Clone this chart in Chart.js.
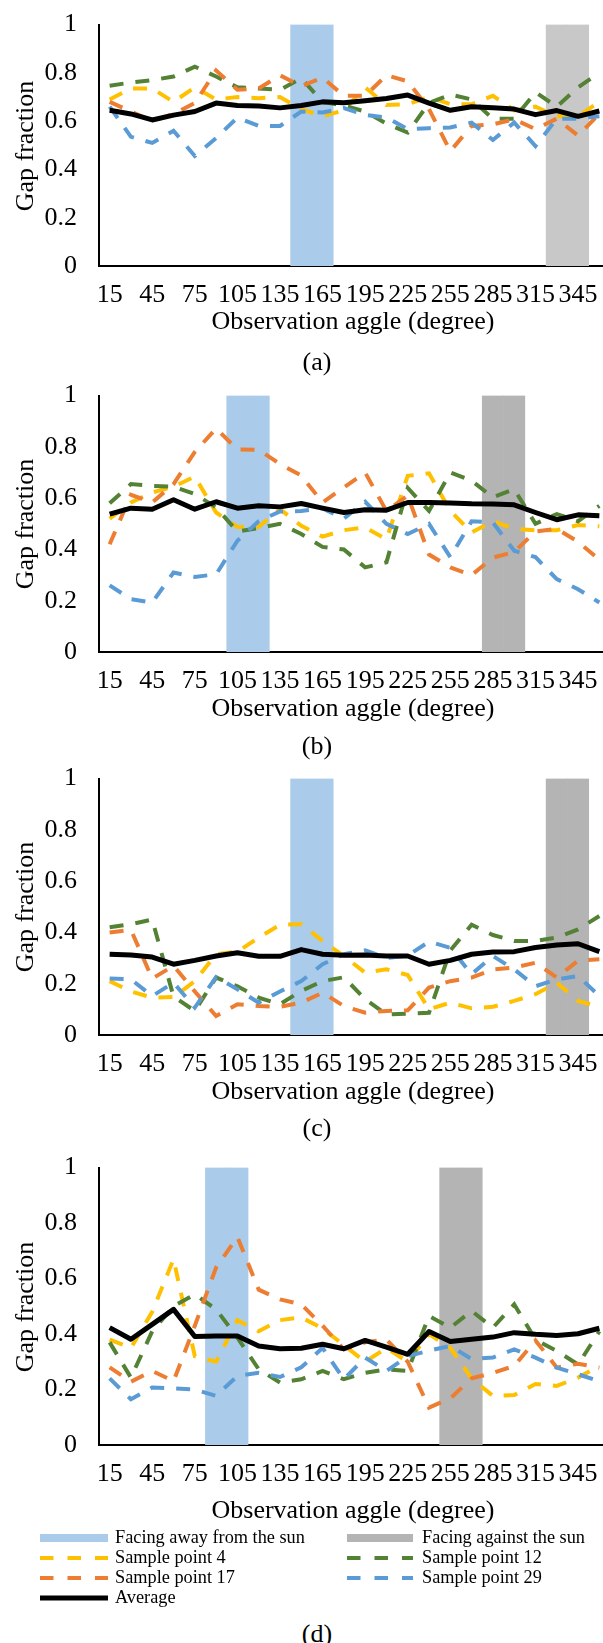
<!DOCTYPE html>
<html>
<head>
<meta charset="utf-8">
<script src="https://cdn.jsdelivr.net/npm/chart.js@4.4.1/dist/chart.umd.min.js"></script>
<style>
  body { margin: 0; background: #fff; }
  #page { position: relative; width: 603px; height: 1643px; overflow: hidden; background: #fff;
          font-family: 'Liberation Serif', 'Times New Roman', serif; color: #000; }
  #page canvas { position: absolute; left: 0; }
  .txt { position: absolute; width: 400px; font-size: 26px; line-height: 30px; text-align: center; white-space: nowrap; }
  .ytitle { width: 200px; transform: rotate(-90deg); }
  .leg { position: absolute; font-size: 18.3px; line-height: 20px; white-space: nowrap; }
  .sw { position: absolute; }
</style>
</head>
<body>
<div id="page"></div>
<script>
var angles = [15, 30, 45, 60, 75, 90, 105, 120, 135, 150, 165, 180, 195, 210, 225, 240, 255, 270, 285, 300, 315, 330, 345, 360];
var shownAngles = [15, 45, 75, 105, 135, 165, 195, 225, 255, 285, 315, 345];

// (a)
var avgA = [0.645, 0.63, 0.605, 0.625, 0.64, 0.675, 0.665, 0.663, 0.655, 0.665, 0.68, 0.676, 0.685, 0.694, 0.708, 0.675, 0.645, 0.66, 0.656, 0.65, 0.627, 0.644, 0.62, 0.642];
var p4A = [0.69, 0.735, 0.735, 0.68, 0.74, 0.69, 0.70, 0.695, 0.70, 0.65, 0.62, 0.645, 0.74, 0.667, 0.67, 0.70, 0.67, 0.67, 0.705, 0.645, 0.66, 0.62, 0.62, 0.68];
var p12A = [0.747, 0.76, 0.77, 0.785, 0.826, 0.785, 0.74, 0.735, 0.73, 0.778, 0.68, 0.665, 0.64, 0.59, 0.553, 0.675, 0.71, 0.69, 0.61, 0.61, 0.72, 0.66, 0.74, 0.80];
var p17A = [0.68, 0.64, 0.60, 0.63, 0.675, 0.81, 0.73, 0.735, 0.79, 0.745, 0.78, 0.705, 0.705, 0.79, 0.765, 0.65, 0.476, 0.58, 0.587, 0.608, 0.567, 0.61, 0.54, 0.63];
var p29A = [0.66, 0.535, 0.51, 0.56, 0.456, 0.53, 0.615, 0.58, 0.58, 0.64, 0.636, 0.654, 0.626, 0.615, 0.567, 0.571, 0.574, 0.594, 0.522, 0.594, 0.497, 0.61, 0.61, 0.62];
var awayA = [150, 165];
var againstA = [330, 345];

// (b)
var avgB = [0.538, 0.561, 0.557, 0.594, 0.557, 0.586, 0.561, 0.57, 0.566, 0.579, 0.561, 0.544, 0.555, 0.553, 0.583, 0.583, 0.581, 0.578, 0.577, 0.574, 0.544, 0.516, 0.535, 0.531];
var p4B = [0.52, 0.583, 0.622, 0.645, 0.684, 0.544, 0.488, 0.488, 0.557, 0.492, 0.45, 0.475, 0.486, 0.44, 0.687, 0.697, 0.55, 0.466, 0.51, 0.48, 0.475, 0.475, 0.495, 0.49];
var p12B = [0.58, 0.655, 0.648, 0.645, 0.616, 0.564, 0.47, 0.483, 0.50, 0.46, 0.41, 0.40, 0.33, 0.35, 0.64, 0.55, 0.70, 0.668, 0.603, 0.635, 0.50, 0.538, 0.51, 0.57];
var p17B = [0.42, 0.613, 0.583, 0.655, 0.78, 0.872, 0.79, 0.789, 0.733, 0.688, 0.583, 0.642, 0.70, 0.55, 0.61, 0.38, 0.33, 0.30, 0.368, 0.39, 0.47, 0.48, 0.43, 0.36];
var p29B = [0.26, 0.206, 0.193, 0.31, 0.293, 0.303, 0.434, 0.51, 0.548, 0.55, 0.56, 0.52, 0.586, 0.50, 0.46, 0.50, 0.37, 0.51, 0.505, 0.395, 0.37, 0.284, 0.245, 0.193];
var awayB = [105, 120];
var againstB = [285, 300];

// (c)
var avgC = [0.315, 0.312, 0.304, 0.276, 0.291, 0.308, 0.321, 0.307, 0.307, 0.333, 0.315, 0.311, 0.312, 0.308, 0.308, 0.276, 0.291, 0.315, 0.324, 0.325, 0.341, 0.351, 0.356, 0.325];
var p4C = [0.21, 0.17, 0.146, 0.148, 0.21, 0.315, 0.325, 0.38, 0.43, 0.432, 0.367, 0.308, 0.243, 0.256, 0.234, 0.10, 0.126, 0.104, 0.11, 0.133, 0.159, 0.204, 0.133, 0.11];
var p12C = [0.42, 0.432, 0.45, 0.15, 0.094, 0.224, 0.19, 0.146, 0.12, 0.172, 0.21, 0.225, 0.14, 0.08, 0.083, 0.087, 0.33, 0.43, 0.39, 0.367, 0.367, 0.38, 0.412, 0.464];
var p17C = [0.40, 0.41, 0.22, 0.27, 0.17, 0.074, 0.12, 0.113, 0.11, 0.126, 0.165, 0.113, 0.087, 0.094, 0.096, 0.185, 0.21, 0.224, 0.256, 0.263, 0.282, 0.224, 0.29, 0.295];
var p29C = [0.22, 0.217, 0.152, 0.204, 0.107, 0.226, 0.178, 0.126, 0.17, 0.21, 0.276, 0.315, 0.33, 0.30, 0.31, 0.364, 0.34, 0.237, 0.308, 0.256, 0.19, 0.217, 0.23, 0.152];
var awayC = [150, 165];
var againstC = [330, 345];

// (d)
var avgD = [0.423, 0.381, 0.435, 0.489, 0.391, 0.393, 0.393, 0.357, 0.347, 0.349, 0.363, 0.347, 0.377, 0.353, 0.327, 0.409, 0.373, 0.381, 0.389, 0.405, 0.399, 0.395, 0.401, 0.421];
var p4D = [0.38, 0.35, 0.48, 0.67, 0.32, 0.30, 0.45, 0.41, 0.45, 0.46, 0.42, 0.36, 0.30, 0.35, 0.30, 0.40, 0.35, 0.24, 0.177, 0.18, 0.22, 0.213, 0.243, 0.285];
var p12D = [0.37, 0.243, 0.41, 0.50, 0.543, 0.489, 0.387, 0.273, 0.225, 0.237, 0.267, 0.237, 0.26, 0.273, 0.267, 0.465, 0.423, 0.483, 0.423, 0.507, 0.38, 0.339, 0.29, 0.41];
var p17D = [0.28, 0.228, 0.267, 0.23, 0.43, 0.64, 0.75, 0.56, 0.525, 0.507, 0.43, 0.345, 0.37, 0.38, 0.30, 0.135, 0.168, 0.24, 0.26, 0.285, 0.377, 0.279, 0.293, 0.279];
var p29D = [0.24, 0.165, 0.207, 0.204, 0.20, 0.177, 0.249, 0.26, 0.245, 0.28, 0.35, 0.237, 0.315, 0.267, 0.32, 0.34, 0.357, 0.31, 0.315, 0.345, 0.315, 0.279, 0.255, 0.23];
var awayD = [90, 105];
var againstD = [255, 270];

var yellow = '#FFC000', green = '#548235', orange = '#ED7D31', blue = '#5B9BD5';
var awayColor = '#AACCEA', againstColor = '#B4B4B4';
var serif = "'Liberation Serif', 'Times New Roman', serif";

Chart.defaults.font.family = serif;
Chart.defaults.color = '#000';

// plot boxes on the page (px)
var plotLeft = 99, plotW = 511;
var panels = [
  { name: '(a)', plotTop: 25, plotH: 241, avg: avgA, p4: p4A, p12: p12A, p17: p17A, p29: p29A, away: awayA, against: againstA, grey: '#C8C8C8', titleY: 323, labelY: 364 },
  { name: '(b)', plotTop: 396, plotH: 256, avg: avgB, p4: p4B, p12: p12B, p17: p17B, p29: p29B, away: awayB, against: againstB, grey: againstColor, titleY: 710, labelY: 748 },
  { name: '(c)', plotTop: 779, plotH: 256, avg: avgC, p4: p4C, p12: p12C, p17: p17C, p29: p29C, away: awayC, against: againstC, grey: againstColor, titleY: 1093, labelY: 1130 },
  { name: '(d)', plotTop: 1168, plotH: 277, avg: avgD, p4: p4D, p12: p12D, p17: p17D, p29: p29D, away: awayD, against: againstD, grey: againstColor, titleY: 1512, labelY: 1636 }
];

var page = document.getElementById('page');

function bandData(cats) {
  return angles.map(function (a) { return cats.indexOf(a) >= 0 ? 1 : null; });
}

function dashed(label, data, color, order) {
  return { type: 'line', label: label, data: data, borderColor: color, borderWidth: 4,
           borderDash: [14, 12], pointRadius: 0, fill: false, tension: 0, order: order };
}

function makeChart(canvas, p) {
  return new Chart(canvas, {
    type: 'bar',
    data: {
      labels: angles,
      datasets: [
        { label: 'Facing away from the sun', data: bandData(p.away), backgroundColor: awayColor,
          barPercentage: 1, categoryPercentage: 1, grouped: false, order: 10 },
        { label: 'Facing against the sun', data: bandData(p.against), backgroundColor: p.grey,
          barPercentage: 1, categoryPercentage: 1, grouped: false, order: 10 },
        dashed('Sample point 4', p.p4, yellow, 5),
        dashed('Sample point 12', p.p12, green, 4),
        dashed('Sample point 17', p.p17, orange, 3),
        dashed('Sample point 29', p.p29, blue, 2),
        { type: 'line', label: 'Average', data: p.avg, borderColor: '#000', borderWidth: 5,
          borderJoinStyle: 'round', pointRadius: 0, fill: false, tension: 0, order: 1 }
      ]
    },
    options: {
      responsive: false,
      animation: false,
      events: [],
      layout: { padding: { top: 20, right: 10, bottom: 0, left: 0 } },
      plugins: { legend: { display: false }, tooltip: { enabled: false } },
      scales: {
        x: {
          z: 1,
          grid: { display: false, drawTicks: false },
          border: { display: true, color: '#000', width: 2 },
          ticks: {
            autoSkip: false, maxRotation: 0, minRotation: 0, padding: 14,
            font: { family: serif, size: 26 },
            callback: function (v, i) { return shownAngles.indexOf(angles[i]) >= 0 ? String(angles[i]) : ''; }
          },
          afterFit: function (s) { s.height = 50; }
        },
        y: {
          z: 1, min: 0, max: 1,
          grid: { display: false, drawTicks: false },
          border: { display: true, color: '#000', width: 2 },
          ticks: {
            stepSize: 0.2, padding: 22, font: { family: serif, size: 26 },
            callback: function (v) { return String(Math.round(v * 10) / 10); }
          },
          afterFit: function (s) { s.width = plotLeft; }
        }
      }
    }
  });
}

function addText(cls, text, left, top) {
  var d = document.createElement('div');
  d.className = cls;
  d.textContent = text;
  d.style.left = left + 'px';
  d.style.top = top + 'px';
  page.appendChild(d);
  return d;
}

panels.forEach(function (p) {
  // first pass to measure where Chart.js puts the plot area, then size the canvas to fit
  var probe = document.createElement('canvas');
  probe.width = 620;
  probe.height = p.plotH + 80;
  page.appendChild(probe);
  var tmp = makeChart(probe, p);
  var a = tmp.chartArea;
  var w = Math.round(probe.width + plotW - (a.right - a.left));
  var h = Math.round(probe.height + p.plotH - (a.bottom - a.top));
  tmp.destroy();
  page.removeChild(probe);

  var c = document.createElement('canvas');
  c.width = w;
  c.height = h;
  page.appendChild(c);
  var chart = makeChart(c, p);
  a = chart.chartArea;
  c.style.left = Math.round(plotLeft - a.left) + 'px';
  c.style.top = Math.round(p.plotTop - a.top) + 'px';

  addText('txt', 'Observation aggle (degree)', 353 - 200, p.titleY - 17);
  addText('txt', p.name, 317 - 200, p.labelY - 17);
  addText('txt ytitle', 'Gap fraction', 25 - 100, p.plotTop + p.plotH / 2 - 15);
});

// legend under (d)
var legendItems = [
  { text: 'Facing away from the sun', kind: 'band', color: awayColor, col: 0, row: 0 },
  { text: 'Facing against the sun', kind: 'band', color: againstColor, col: 1, row: 0 },
  { text: 'Sample point 4', kind: 'dash', color: yellow, col: 0, row: 1 },
  { text: 'Sample point 12', kind: 'dash', color: green, col: 1, row: 1 },
  { text: 'Sample point 17', kind: 'dash', color: orange, col: 0, row: 2 },
  { text: 'Sample point 29', kind: 'dash', color: blue, col: 1, row: 2 },
  { text: 'Average', kind: 'solid', color: '#000', col: 0, row: 3 }
];
var swatchX = [40, 347], swatchW = [68, 66], textX = [115, 422];

legendItems.forEach(function (it) {
  var base = 1542.5 + 20 * it.row;
  var cy = base - 4.5;
  var x = swatchX[it.col], w = swatchW[it.col];
  if (it.kind === 'band') {
    var b = document.createElement('div');
    b.className = 'sw';
    b.style.left = x + 'px';
    b.style.top = (cy - 4) + 'px';
    b.style.width = w + 'px';
    b.style.height = '8px';
    b.style.background = it.color;
    page.appendChild(b);
  } else {
    var ns = 'http://www.w3.org/2000/svg';
    var svg = document.createElementNS(ns, 'svg');
    svg.setAttribute('width', w);
    svg.setAttribute('height', 10);
    svg.setAttribute('class', 'sw');
    svg.style.left = x + 'px';
    svg.style.top = (cy - 5) + 'px';
    var ln = document.createElementNS(ns, 'line');
    ln.setAttribute('x1', 0); ln.setAttribute('y1', 5);
    ln.setAttribute('x2', w); ln.setAttribute('y2', 5);
    ln.setAttribute('stroke', it.color);
    ln.setAttribute('stroke-width', it.kind === 'solid' ? 5 : 4);
    if (it.kind === 'dash') ln.setAttribute('stroke-dasharray', '13.5 14');
    svg.appendChild(ln);
    page.appendChild(svg);
  }
  addText('leg', it.text, textX[it.col], base - 16);
});
</script>
</body>
</html>
